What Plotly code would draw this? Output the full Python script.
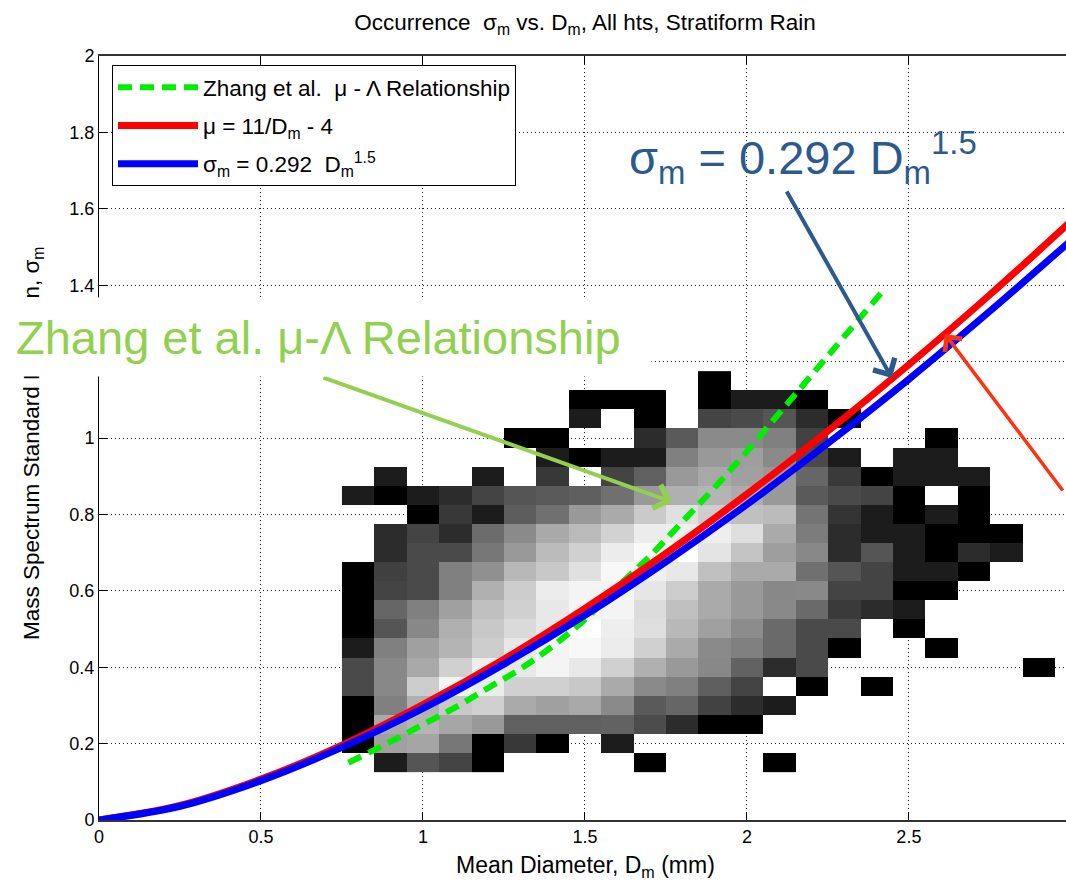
import plotly.graph_objects as go

# ---------------- data ----------------
D_BINS = [0.8, 0.9, 1.0, 1.1, 1.2, 1.3, 1.4, 1.5, 1.6, 1.7, 1.8,
          1.9, 2.0, 2.1, 2.2, 2.3, 2.4, 2.5, 2.6, 2.7, 2.8, 2.9]
SIGMA_BINS = [0.15, 0.20, 0.25, 0.30, 0.35, 0.40, 0.45, 0.50, 0.55, 0.60, 0.65,
              0.70, 0.75, 0.80, 0.85, 0.90, 0.95, 1.00, 1.05, 1.10, 1.15]
N = None
# relative occurrence level (0 = lowest, 255 = highest), None = no samples
row_015 = [N, 28, 85, 68, 0, N, N, N, N, 0, N, N, N, 0, N, N, N, N, N, N, N, N]
row_020 = [0, 160, 165, 119, 0, 56, 0, N, 28] + [N] * 13
row_025 = [0, 170, 180, 166, 153, 96, 96, 96, 98, 76, 44, 0, 0] + [N] * 9
row_030 = [0, 128, 176, 200, 208, 170, 160, 168, 138, 90, 102, 66, 44, 28] + [N] * 8
row_035 = [74, 136, 204, 244, 236, 208, 208, 200, 170, 138, 128, 95, 68, N, 0, N, 0] + [N] * 5
row_040 = [74, 136, 168, 208, 238, 232, 244, 232, 208, 176, 153, 136, 98, 44, 74] + [N] * 6 + [0]
row_045 = [28, 128, 160, 180, 204, 232, 244, 248, 236, 208, 170, 138, 128, 106, 74, 0, N, N, 0] + [N] * 3
row_050 = [0, 85, 136, 176, 200, 218, 232, 255, 238, 222, 184, 160, 140, 106, 74, 74, N, 0] + [N] * 4
row_055 = [0, 102, 128, 160, 192, 208, 232, 245, 244, 220, 192, 170, 153, 137, 106, 58, 44, 28] + [N] * 4
row_060 = [0, 68, 74, 128, 176, 204, 236, 244, 244, 230, 204, 170, 153, 136, 137, 68, 68, 0, 0] + [N] * 3
row_065 = [0, 64, 74, 128, 144, 184, 200, 224, 248, 240, 232, 192, 170, 170, 112, 85, 68, 28, 28, 0] + [N] * 2
row_070 = [N, 44, 74, 74, 119, 153, 187, 208, 236, 250, 255, 228, 196, 158, 136, 44, 85, 28, 0, 44, 28, N]
row_075 = [N, 44, 68, 44, 108, 138, 169, 186, 210, 236, 239, 238, 222, 170, 124, 44, 28, 28, 0, 0, 0, N]
row_080 = [N, N, 0, 56, 28, 93, 112, 153, 170, 202, 224, 206, 192, 187, 116, 52, 28, 0, 28, 0, N, N]
row_085 = [28, 0, 28, 44, 68, 85, 90, 95, 112, 153, 176, 180, 172, 153, 90, 74, 68, 0, N, 0, N, N]
row_090 = [N, 28, N, N, 28, N, 56, N, 68, 96, 153, 168, 160, 153, 102, 58, 0, 28, 28, 28, N, N]
row_095 = [N, N, N, N, N, N, 28, 0, 28, 28, 128, 153, 158, 138, 74, 28, N, 28, 28, N, N, N]
row_100 = [N, N, N, N, N, 0, 0, N, N, 44, 90, 138, 138, 128, 66, N, N, N, 0, N, N, N]
row_105 = [N] * 7 + [28, N, 0, N, 68, 74, 85, 44, 0] + [N] * 6
row_110 = [N] * 7 + [0, 0, 0, N, 0, 28, 28, 0] + [N] * 7
row_115 = [N] * 11 + [0] + [N] * 10

OCCURRENCE = [row_015, row_020, row_025, row_030, row_035, row_040, row_045,
              row_050, row_055, row_060, row_065, row_070, row_075, row_080,
              row_085, row_090, row_095, row_100, row_105, row_110, row_115]

# fitted curves
D_CURVE = [0, 0.25, 0.5, 0.75, 1.0, 1.25, 1.5, 1.75, 2.0, 2.25, 2.5, 2.75, 3.0]
SIGMA_POWER = [0, 0.036, 0.103, 0.19, 0.292, 0.408, 0.536, 0.676, 0.826, 0.986, 1.154, 1.332, 1.517]
SIGMA_MU = [0, 0.038, 0.107, 0.196, 0.302, 0.421, 0.554, 0.698, 0.853, 1.018, 1.192, 1.375, 1.567]

D_ZHANG = [0.77, 0.9, 1.0, 1.1, 1.2, 1.3, 1.4, 1.5, 1.6, 1.7, 1.8, 1.9, 2.0, 2.1, 2.2, 2.3, 2.42]
SIGMA_ZHANG = [0.15, 0.205, 0.25, 0.295, 0.345, 0.395, 0.455, 0.525, 0.61, 0.69, 0.78,
               0.87, 0.965, 1.065, 1.165, 1.265, 1.385]

X_TICKS = [0, 0.5, 1, 1.5, 2, 2.5, 3]
X_TICK_TEXT = ["0", "0.5", "1", "1.5", "2", "2.5", "3"]
Y_TICKS = [0, 0.2, 0.4, 0.6, 0.8, 1.0, 1.2, 1.4, 1.6, 1.8, 2.0]
Y_TICK_TEXT = ["0", "0.2", "0.4", "0.6", "0.8", "1", "", "1.4", "1.6", "1.8", "2"]

FONT = "Arial, Liberation Sans, Helvetica, sans-serif"

fig = go.Figure()

fig.add_trace(go.Heatmap(
    x=D_BINS, y=SIGMA_BINS, z=OCCURRENCE,
    colorscale=[[0, "#000000"], [1, "#ffffff"]],
    zmin=0, zmax=255, showscale=False, hoverongaps=False,
))

fig.add_trace(go.Scatter(
    x=D_ZHANG, y=SIGMA_ZHANG, mode="lines", line_shape="spline",
    line=dict(color="#00ee00", width=6, dash="14px,8px"),
    name="Zhang et al.  μ - Λ Relationship", legendgroup="g1",
))
fig.add_trace(go.Scatter(
    x=D_CURVE, y=SIGMA_MU, mode="lines", line_shape="spline",
    line=dict(color="#ff0000", width=7),
    name="μ = 11/D<sub>m</sub> - 4", legendgroup="g2",
))
fig.add_trace(go.Scatter(
    x=D_CURVE, y=SIGMA_POWER, mode="lines", line_shape="spline",
    line=dict(color="#0000ff", width=7),
    name="σ<sub>m</sub> = 0.292  D<sub>m</sub><sup>1.5</sup>", legendgroup="g3",
))

fig.update_layout(
    width=1066, height=885,
    margin=dict(l=99, r=0, t=56, b=65),
    paper_bgcolor="white", plot_bgcolor="white",
    font=dict(family=FONT, size=17, color="black"),
    title=dict(
        text="Occurrence  σ<sub>m</sub> vs. D<sub>m</sub>, All hts, Stratiform Rain",
        x=0.5026, xref="paper", xanchor="center",
        y=1 - 22 / 885, yref="container", yanchor="middle",
        font=dict(size=22.5, family=FONT),
    ),
    showlegend=True,
    legend=dict(
        x=(112 - 99) / 967, y=1 - (65 - 56) / 764, xanchor="left", yanchor="top",
        bgcolor="white", bordercolor="black", borderwidth=1,
        font=dict(size=22.5, family=FONT), itemwidth=80, tracegroupgap=6,
    ),
    xaxis=dict(
        range=[0, 2.985], tickvals=X_TICKS, ticktext=X_TICK_TEXT,
        ticks="inside", ticklen=8, tickcolor="black",
        showline=True, linecolor="#333333", linewidth=1.5, mirror="ticks",
        showgrid=True, gridcolor="#222222", griddash="1px,3px", gridwidth=1,
        zeroline=False, tickfont=dict(size=18),
    ),
    yaxis=dict(
        range=[0, 2], tickvals=Y_TICKS, ticktext=Y_TICK_TEXT,
        ticks="inside", ticklen=8, tickcolor="black",
        showline=True, linecolor="black", linewidth=1,
        showgrid=True, gridcolor="#222222", griddash="1px,3px", gridwidth=1,
        zeroline=False, tickfont=dict(size=18),
    ),
)


def px_to_x(px):
    return (px - 99) / 324.0


def px_to_y(py):
    return (820 - py) / 382.0


def px_to_paper_x(px):
    return (px - 99) / 967.0


def px_to_paper_y(py):
    return 1 - (py - 56) / 764.0


annotations = [
    # axis titles
    dict(x=px_to_paper_x(585), y=px_to_paper_y(866), xref="paper", yref="paper",
         xanchor="center", yanchor="middle", showarrow=False,
         text="Mean Diameter, D<sub>m</sub> (mm)", font=dict(size=23, family=FONT)),
    dict(x=px_to_paper_x(33), y=px_to_paper_y(444), xref="paper", yref="paper",
         xanchor="center", yanchor="middle", showarrow=False, textangle=-90,
         text="Mass Spectrum Standard Deviation, σ<sub>m</sub>",
         font=dict(size=22.5, family=FONT)),
    # arrows
    dict(x=px_to_x(892), y=px_to_y(378), xref="x", yref="y", text="",
         showarrow=True, ax=-106, ay=-188, arrowcolor="#2c5a8c",
         arrowwidth=4, arrowhead=4, arrowsize=1.2),
    dict(x=px_to_x(672), y=px_to_y(502), xref="x", yref="y", text="",
         showarrow=True, ax=-350, ay=-125, arrowcolor="#92d050",
         arrowwidth=4, arrowhead=4, arrowsize=1.2),
    dict(x=px_to_x(945), y=px_to_y(334), xref="x", yref="y", text="",
         showarrow=True, ax=119, ay=158, arrowcolor="#ff3311",
         arrowwidth=3.5, arrowhead=4, arrowsize=1.2),
    # white box behind the Zhang label
    dict(x=px_to_paper_x(0), y=px_to_paper_y(297), xref="paper", yref="paper",
         xanchor="left", yanchor="top", text=" ", showarrow=False,
         width=650, height=78, bgcolor="white", borderpad=0),
    dict(x=px_to_paper_x(318), y=px_to_paper_y(338), xref="paper", yref="paper",
         xanchor="center", yanchor="middle", showarrow=False,
         text="Zhang et al. μ-Λ Relationship",
         font=dict(size=47, color="#92d050", family=FONT)),
    dict(x=px_to_paper_x(803), y=px_to_paper_y(157), xref="paper", yref="paper",
         xanchor="center", yanchor="middle", showarrow=False,
         text="σ<sub>m</sub> = 0.292 D<sub>m</sub><sup>1.5</sup>",
         font=dict(size=47, color="#2c5a8c", family=FONT)),
    # partially visible last x tick label
    dict(x=px_to_paper_x(1071), y=0, xref="paper", yref="paper",
         xanchor="center", yanchor="top", yshift=-4, showarrow=False,
         text="3", font=dict(size=18, family=FONT)),
]
fig.update_layout(annotations=annotations)

fig.write_html("out.html")
